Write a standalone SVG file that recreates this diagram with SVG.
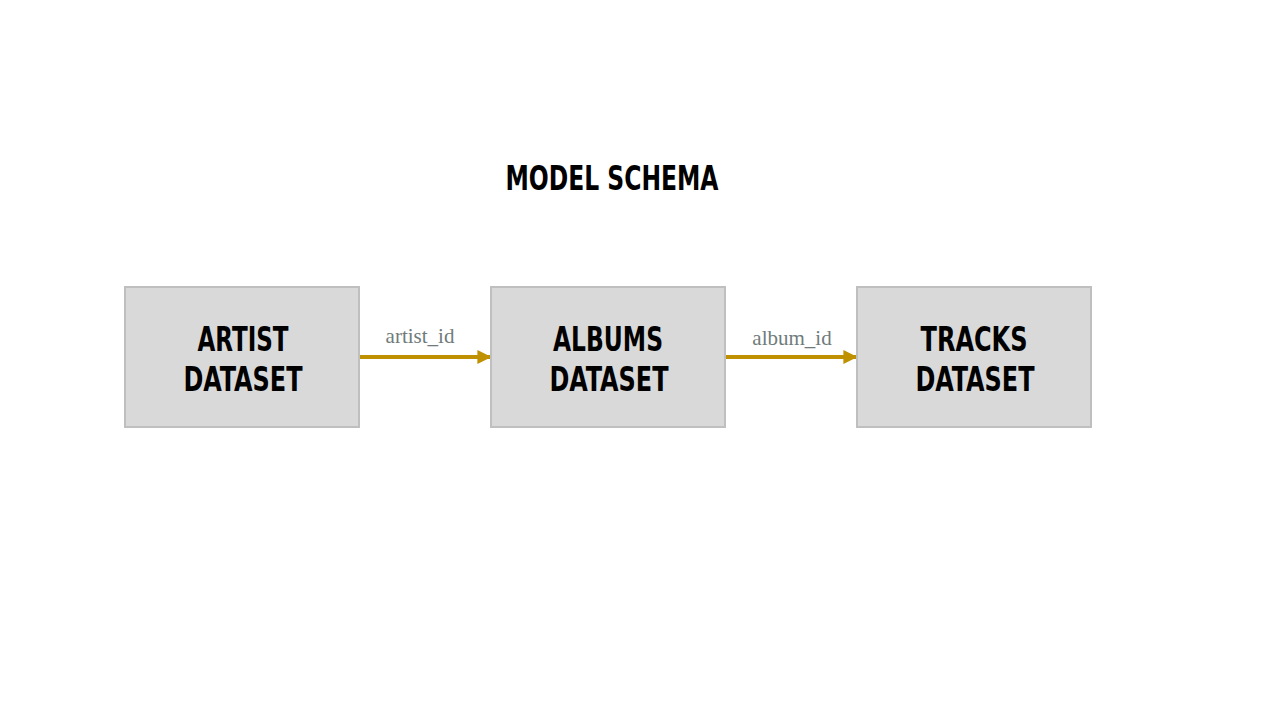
<svg xmlns="http://www.w3.org/2000/svg" width="1280" height="720" viewBox="0 0 1280 720">
<style>
.box{fill:#d9d9d9;stroke:#bfbfbf;stroke-width:2}
.lbl{font-family:"DejaVu Sans Condensed","DejaVu Sans",sans-serif;font-weight:bold;font-size:34px;fill:#000;text-anchor:middle}
.edge{stroke:#bf9000;stroke-width:4;fill:none}
.elbl{font-family:"Liberation Serif",serif;font-size:21px;fill:#6f7b7b;text-anchor:middle}
</style>
<defs>
<marker id="ah" viewBox="0 0 10 10" refX="9" refY="5" markerWidth="3.5" markerHeight="3.5" orient="auto" markerUnits="strokeWidth">
<path d="M0,0 L10,5 L0,10 Z" fill="#bf9000"/>
</marker>
</defs>
<rect width="1280" height="720" fill="#fff"/>
<text x="612" y="190" class="lbl" font-size="33" textLength="213" lengthAdjust="spacingAndGlyphs">MODEL SCHEMA</text>
<g id="connectors">
<line class="edge" x1="360" y1="357" x2="490" y2="357" marker-end="url(#ah)"/>
<text class="elbl" x="420" y="343">artist_id</text>
<line class="edge" x1="726" y1="357" x2="856" y2="357" marker-end="url(#ah)"/>
<text class="elbl" x="792" y="345">album_id</text>
</g>
<g id="artist">
<rect class="box" x="125" y="287" width="234" height="140"/>
<text class="lbl" x="243" y="351" textLength="91" lengthAdjust="spacingAndGlyphs">ARTIST</text>
<text class="lbl" x="243" y="391" textLength="119" lengthAdjust="spacingAndGlyphs">DATASET</text>
</g>
<g id="albums">
<rect class="box" x="491" y="287" width="234" height="140"/>
<text class="lbl" x="608" y="351" textLength="110" lengthAdjust="spacingAndGlyphs">ALBUMS</text>
<text class="lbl" x="609" y="391" textLength="119" lengthAdjust="spacingAndGlyphs">DATASET</text>
</g>
<g id="tracks">
<rect class="box" x="857" y="287" width="234" height="140"/>
<text class="lbl" x="974" y="351" textLength="107" lengthAdjust="spacingAndGlyphs">TRACKS</text>
<text class="lbl" x="975" y="391" textLength="119" lengthAdjust="spacingAndGlyphs">DATASET</text>
</g>
</svg>
